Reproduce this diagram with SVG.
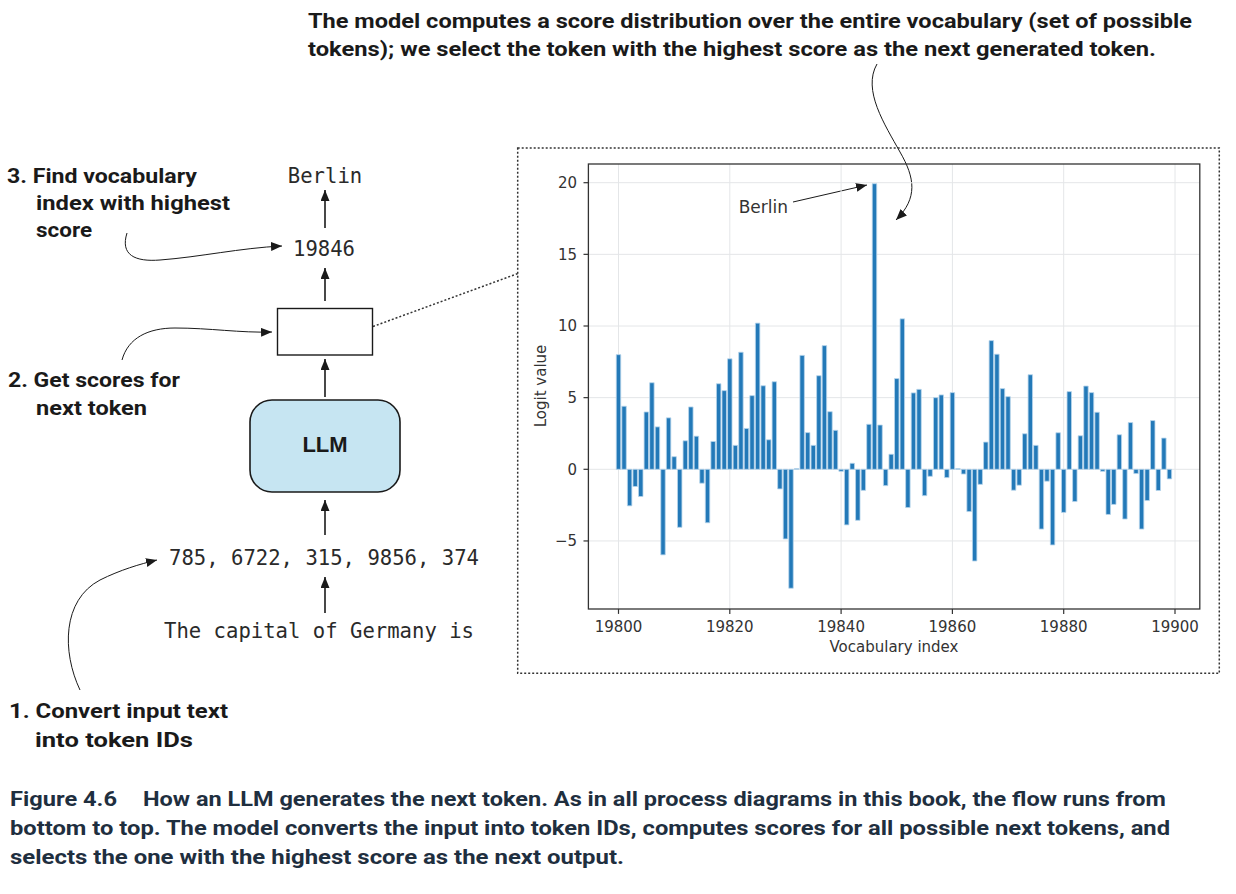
<svg xmlns="http://www.w3.org/2000/svg" width="1236" height="894" viewBox="0 0 1236 894">
<style>
.lbl{font-family:Roboto,"Liberation Sans",sans-serif;font-weight:700;font-size:20px;fill:#1a1a1a}
.cap{font-family:Roboto,"Liberation Sans",sans-serif;font-weight:700;font-size:20px;fill:#1f2f3f}
.mono{font-family:"DejaVu Sans Mono","Liberation Mono",monospace;font-size:20.6px;fill:#2a2a2a}
.tick{font-family:"DejaVu Sans",sans-serif;font-size:15px;fill:#333}
.arr{stroke:#1a1a1a;stroke-width:1.6;fill:none}
.curve{stroke:#1a1a1a;stroke-width:1;fill:none}
.grid line{stroke:#e4e6e8;stroke-width:1}
.dot{stroke:#333;stroke-width:1.5;stroke-dasharray:2 2;fill:none}
#bars rect{vector-effect:non-scaling-stroke}
</style>
<defs>
<marker id="ah" markerUnits="userSpaceOnUse" markerWidth="11" markerHeight="9" refX="11" refY="4.5" orient="auto" viewBox="0 0 11 9">
<path d="M0,0 L11,4.5 L0,9 z" fill="#1a1a1a"/>
</marker>
</defs>
<rect width="1236" height="894" fill="#fff"/>

<!-- top annotation -->
<g id="note-top">
<text class="lbl" x="308" y="28" textLength="884" lengthAdjust="spacingAndGlyphs">The model computes a score distribution over the entire vocabulary (set of possible</text>
<text class="lbl" x="308" y="56" textLength="848" lengthAdjust="spacingAndGlyphs">tokens); we select the token with the highest score as the next generated token.</text>
</g>

<!-- left labels -->
<g id="label-3">
<text class="lbl" x="7" y="183" textLength="190" lengthAdjust="spacingAndGlyphs">3. Find vocabulary</text>
<text class="lbl" x="36" y="210" textLength="194" lengthAdjust="spacingAndGlyphs">index with highest</text>
<text class="lbl" x="36" y="237" textLength="56" lengthAdjust="spacingAndGlyphs">score</text>
</g>
<g id="label-2">
<text class="lbl" x="8" y="387" textLength="172" lengthAdjust="spacingAndGlyphs">2. Get scores for</text>
<text class="lbl" x="36" y="415" textLength="111" lengthAdjust="spacingAndGlyphs">next token</text>
</g>
<g id="label-1">
<text class="lbl" x="9" y="718" textLength="219" lengthAdjust="spacingAndGlyphs">1. Convert input text</text>
<text class="lbl" x="35" y="747" textLength="158" lengthAdjust="spacingAndGlyphs">into token IDs</text>
</g>

<!-- flow nodes -->
<g id="out-word"><text class="mono" x="325" y="183" text-anchor="middle">Berlin</text></g>
<g id="out-id"><text class="mono" x="324" y="256" text-anchor="middle">19846</text></g>
<g id="scores"><rect x="277.5" y="308.5" width="95" height="46.5" fill="#fff" stroke="#1a1a1a" stroke-width="1.4"/></g>
<g id="llm">
<rect x="250" y="400" width="150" height="92" rx="22" ry="22" fill="#c6e5f2" stroke="#1a1a1a" stroke-width="1.6"/>
<text x="325" y="452" text-anchor="middle" font-family="'Liberation Sans',Arial,sans-serif" font-weight="700" font-size="22" fill="#1a1a1a">LLM</text>
</g>
<g id="token-ids"><text class="mono" x="324" y="565" text-anchor="middle">785, 6722, 315, 9856, 374</text></g>
<g id="input-text"><text class="mono" x="319" y="638" text-anchor="middle">The capital of Germany is</text></g>

<!-- connectors -->
<g id="connectors">
<line class="arr" x1="325" y1="228" x2="325" y2="190" marker-end="url(#ah)"/>
<line class="arr" x1="325" y1="301" x2="325" y2="268" marker-end="url(#ah)"/>
<line class="arr" x1="325" y1="397" x2="325" y2="359" marker-end="url(#ah)"/>
<line class="arr" x1="325" y1="535" x2="325" y2="500" marker-end="url(#ah)"/>
<line class="arr" x1="325" y1="613" x2="325" y2="577" marker-end="url(#ah)"/>
<path class="curve" d="M127,233 C120,255 135,262 160,260 C200,257 240,248 282,246" marker-end="url(#ah)"/>
<path class="curve" d="M122,360 C128,338 148,328 175,328 C210,328 240,333 272,332" marker-end="url(#ah)"/>
<path class="curve" d="M80,690 C62,652 62,600 100,580 C120,570 140,564 157,560" marker-end="url(#ah)"/>
<path class="curve" d="M877,64 C862,90 885,125 900,152 C915,178 918,198 896,220" marker-end="url(#ah)"/>
<line class="curve" x1="793" y1="202" x2="867" y2="185" stroke-width="1.3" marker-end="url(#ah)"/>
<line class="dot" x1="373" y1="326.5" x2="518" y2="273.5"/>
</g>

<!-- chart -->
<g id="chart">
<rect class="dot" x="517.7" y="148" width="701.6" height="525.3"/>
<g class="grid">
<line x1="618.5" y1="164" x2="618.5" y2="609"/>
<line x1="729.8" y1="164" x2="729.8" y2="609"/>
<line x1="841.1" y1="164" x2="841.1" y2="609"/>
<line x1="952.4" y1="164" x2="952.4" y2="609"/>
<line x1="1063.7" y1="164" x2="1063.7" y2="609"/>
<line x1="1175" y1="164" x2="1175" y2="609"/>
<line x1="588.4" y1="182.7" x2="1199.8" y2="182.7"/>
<line x1="588.4" y1="254.35" x2="1199.8" y2="254.35"/>
<line x1="588.4" y1="326" x2="1199.8" y2="326"/>
<line x1="588.4" y1="397.65" x2="1199.8" y2="397.65"/>
<line x1="588.4" y1="469.3" x2="1199.8" y2="469.3"/>
<line x1="588.4" y1="540.95" x2="1199.8" y2="540.95"/>
</g>
<g id="bars" transform="translate(618.5 469.3) scale(5.565 -14.33)" fill="#2379b8" stroke="#b8d5ec" stroke-width="0.8">
<rect x="-0.4" y="0" width="0.8" height="8"/>
<rect x="0.6" y="0" width="0.8" height="4.4"/>
<rect x="1.6" y="-2.55" width="0.8" height="2.55"/>
<rect x="2.6" y="-1.2" width="0.8" height="1.2"/>
<rect x="3.6" y="-1.9" width="0.8" height="1.9"/>
<rect x="4.6" y="0" width="0.8" height="4"/>
<rect x="5.6" y="0" width="0.8" height="6.04"/>
<rect x="6.6" y="0" width="0.8" height="2.96"/>
<rect x="7.6" y="-5.97" width="0.8" height="5.97"/>
<rect x="8.6" y="0" width="0.8" height="3.59"/>
<rect x="9.6" y="0" width="0.8" height="0.88"/>
<rect x="10.6" y="-4.05" width="0.8" height="4.05"/>
<rect x="11.6" y="0" width="0.8" height="1.99"/>
<rect x="12.6" y="0" width="0.8" height="4.35"/>
<rect x="13.6" y="0" width="0.8" height="2.31"/>
<rect x="14.6" y="-0.97" width="0.8" height="0.97"/>
<rect x="15.6" y="-3.73" width="0.8" height="3.73"/>
<rect x="16.6" y="0" width="0.8" height="1.94"/>
<rect x="17.6" y="0" width="0.8" height="5.97"/>
<rect x="18.6" y="0" width="0.8" height="5.49"/>
<rect x="19.6" y="0" width="0.8" height="7.71"/>
<rect x="20.6" y="0" width="0.8" height="1.67"/>
<rect x="21.6" y="0" width="0.8" height="8.17"/>
<rect x="22.6" y="0" width="0.8" height="2.85"/>
<rect x="23.6" y="0" width="0.8" height="5.14"/>
<rect x="24.6" y="0" width="0.8" height="10.2"/>
<rect x="25.6" y="0" width="0.8" height="5.83"/>
<rect x="26.6" y="0" width="0.8" height="2.06"/>
<rect x="27.6" y="0" width="0.8" height="6.11"/>
<rect x="28.6" y="-1.37" width="0.8" height="1.37"/>
<rect x="29.6" y="-4.86" width="0.8" height="4.86"/>
<rect x="30.6" y="-8.3" width="0.8" height="8.3"/>
<rect x="31.6" y="0" width="0.8" height="0.05"/>
<rect x="32.6" y="0" width="0.8" height="7.95"/>
<rect x="33.6" y="0" width="0.8" height="2.56"/>
<rect x="34.6" y="0" width="0.8" height="1.67"/>
<rect x="35.6" y="0" width="0.8" height="6.53"/>
<rect x="36.6" y="0" width="0.8" height="8.63"/>
<rect x="37.6" y="0" width="0.8" height="4.02"/>
<rect x="38.6" y="0" width="0.8" height="2.72"/>
<rect x="39.6" y="-0.14" width="0.8" height="0.14"/>
<rect x="40.6" y="-3.88" width="0.8" height="3.88"/>
<rect x="41.6" y="0" width="0.8" height="0.42"/>
<rect x="42.6" y="-3.56" width="0.8" height="3.56"/>
<rect x="43.6" y="-1.47" width="0.8" height="1.47"/>
<rect x="44.6" y="0" width="0.8" height="3.14"/>
<rect x="45.6" y="0" width="0.8" height="19.93"/>
<rect x="46.6" y="0" width="0.8" height="3.09"/>
<rect x="47.6" y="-1.14" width="0.8" height="1.14"/>
<rect x="48.6" y="0" width="0.8" height="1.05"/>
<rect x="49.6" y="0" width="0.8" height="6.33"/>
<rect x="50.6" y="0" width="0.8" height="10.5"/>
<rect x="51.6" y="-2.67" width="0.8" height="2.67"/>
<rect x="52.6" y="0" width="0.8" height="5.33"/>
<rect x="53.6" y="0" width="0.8" height="5.58"/>
<rect x="54.6" y="-1.84" width="0.8" height="1.84"/>
<rect x="55.6" y="-0.49" width="0.8" height="0.49"/>
<rect x="56.6" y="0" width="0.8" height="5"/>
<rect x="57.6" y="0" width="0.8" height="5.19"/>
<rect x="58.6" y="-0.58" width="0.8" height="0.58"/>
<rect x="59.6" y="0" width="0.8" height="5.35"/>
<rect x="60.6" y="0" width="0.8" height="0.05"/>
<rect x="61.6" y="-0.33" width="0.8" height="0.33"/>
<rect x="62.6" y="-2.95" width="0.8" height="2.95"/>
<rect x="63.6" y="-6.4" width="0.8" height="6.4"/>
<rect x="64.6" y="-1.05" width="0.8" height="1.05"/>
<rect x="65.6" y="0" width="0.8" height="1.9"/>
<rect x="66.6" y="0" width="0.8" height="8.98"/>
<rect x="67.6" y="0" width="0.8" height="8.03"/>
<rect x="68.6" y="0" width="0.8" height="5.63"/>
<rect x="69.6" y="0" width="0.8" height="5.07"/>
<rect x="70.6" y="-1.46" width="0.8" height="1.46"/>
<rect x="71.6" y="-1.11" width="0.8" height="1.11"/>
<rect x="72.6" y="0" width="0.8" height="2.48"/>
<rect x="73.6" y="0" width="0.8" height="6.6"/>
<rect x="74.6" y="0" width="0.8" height="1.67"/>
<rect x="75.6" y="-4.17" width="0.8" height="4.17"/>
<rect x="76.6" y="-0.83" width="0.8" height="0.83"/>
<rect x="77.6" y="-5.28" width="0.8" height="5.28"/>
<rect x="78.6" y="0" width="0.8" height="2.55"/>
<rect x="79.6" y="-3.01" width="0.8" height="3.01"/>
<rect x="80.6" y="0" width="0.8" height="5.42"/>
<rect x="81.6" y="-2.25" width="0.8" height="2.25"/>
<rect x="82.6" y="0" width="0.8" height="2.34"/>
<rect x="83.6" y="0" width="0.8" height="5.81"/>
<rect x="84.6" y="0" width="0.8" height="5.35"/>
<rect x="85.6" y="0" width="0.8" height="3.98"/>
<rect x="86.6" y="-0.14" width="0.8" height="0.14"/>
<rect x="87.6" y="-3.15" width="0.8" height="3.15"/>
<rect x="88.6" y="-2.45" width="0.8" height="2.45"/>
<rect x="89.6" y="0" width="0.8" height="2.41"/>
<rect x="90.6" y="-3.47" width="0.8" height="3.47"/>
<rect x="91.6" y="0" width="0.8" height="3.26"/>
<rect x="92.6" y="-0.3" width="0.8" height="0.3"/>
<rect x="93.6" y="-4.17" width="0.8" height="4.17"/>
<rect x="94.6" y="-2.18" width="0.8" height="2.18"/>
<rect x="95.6" y="0" width="0.8" height="3.4"/>
<rect x="96.6" y="-1.48" width="0.8" height="1.48"/>
<rect x="97.6" y="0" width="0.8" height="2.18"/>
<rect x="98.6" y="-0.67" width="0.8" height="0.67"/>
</g>
<rect x="588.4" y="164" width="611.4" height="445" fill="none" stroke="#333" stroke-width="1.3"/>
<g stroke="#333" stroke-width="1.2">
<line x1="583.5" y1="182.7" x2="588.4" y2="182.7"/>
<line x1="583.5" y1="254.35" x2="588.4" y2="254.35"/>
<line x1="583.5" y1="326" x2="588.4" y2="326"/>
<line x1="583.5" y1="397.65" x2="588.4" y2="397.65"/>
<line x1="583.5" y1="469.3" x2="588.4" y2="469.3"/>
<line x1="583.5" y1="540.95" x2="588.4" y2="540.95"/>
<line x1="618.5" y1="609" x2="618.5" y2="613.9"/>
<line x1="729.8" y1="609" x2="729.8" y2="613.9"/>
<line x1="841.1" y1="609" x2="841.1" y2="613.9"/>
<line x1="952.4" y1="609" x2="952.4" y2="613.9"/>
<line x1="1063.7" y1="609" x2="1063.7" y2="613.9"/>
<line x1="1175" y1="609" x2="1175" y2="613.9"/>
</g>
<g class="tick" text-anchor="end">
<text x="577" y="188">20</text>
<text x="577" y="259.7">15</text>
<text x="577" y="331.3">10</text>
<text x="577" y="403">5</text>
<text x="577" y="474.6">0</text>
<text x="577" y="546.3">−5</text>
</g>
<g class="tick" text-anchor="middle">
<text x="618.5" y="632">19800</text>
<text x="729.8" y="632">19820</text>
<text x="841.1" y="632">19840</text>
<text x="952.4" y="632">19860</text>
<text x="1063.7" y="632">19880</text>
<text x="1175" y="632">19900</text>
<text x="894" y="652">Vocabulary index</text>
<text transform="translate(546 386) rotate(-90)">Logit value</text>
</g>
<text class="tick" x="788" y="213" text-anchor="end" style="font-size:17px">Berlin</text>
</g>

<!-- caption -->
<g id="caption">
<text class="cap" x="10" y="806" textLength="107" lengthAdjust="spacingAndGlyphs">Figure 4.6</text>
<text class="cap" x="143" y="806" textLength="1023" lengthAdjust="spacingAndGlyphs">How an LLM generates the next token. As in all process diagrams in this book, the flow runs from</text>
<text class="cap" x="10" y="835" textLength="1160" lengthAdjust="spacingAndGlyphs">bottom to top. The model converts the input into token IDs, computes scores for all possible next tokens, and</text>
<text class="cap" x="10" y="864" textLength="614" lengthAdjust="spacingAndGlyphs">selects the one with the highest score as the next output.</text>
</g>
</svg>
